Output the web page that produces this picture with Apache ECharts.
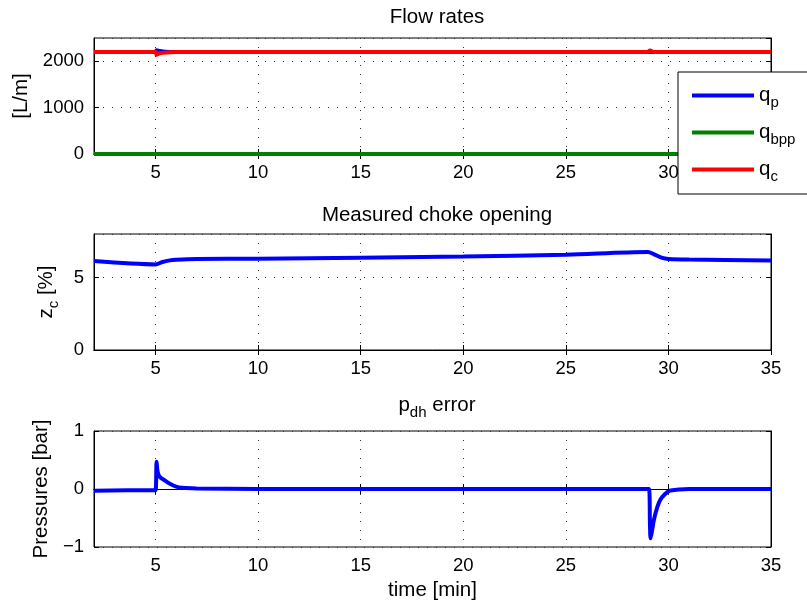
<!DOCTYPE html>
<html>
<head>
<meta charset="utf-8">
<script src="https://cdn.jsdelivr.net/npm/echarts@6/dist/echarts.min.js"></script>
<style>
  html, body { margin: 0; padding: 0; background: #fff; }
  #chart { width: 807px; height: 606px; }
</style>
</head>
<body>
<div id="chart"></div>
<script>
// flow rates [L/m]
const tFlow = [2, 5, 5.05, 5.2, 5.5, 6, 7, 29, 29.1, 29.3, 30, 35]
const qp    = [2200, 2200, 2235, 2220, 2205, 2200, 2200, 2200, 2200, 2200, 2200, 2200]
const qc    = [2200, 2200, 2140, 2170, 2190, 2200, 2200, 2200, 2230, 2200, 2200, 2200]
const qbpp  = [0, 0, 0, 0, 0, 0, 0, 0, 0, 0, 0, 0]

// measured choke opening [%]
const tChoke = [2, 5, 5.3, 5.7, 6, 7, 10, 20, 25, 29, 29.3, 29.7, 30, 31, 35]
const zc     = [6.13, 5.9, 6.05, 6.18, 6.22, 6.27, 6.3, 6.44, 6.57, 6.76, 6.6, 6.35, 6.28, 6.24, 6.18]

// p_dh error [bar]
const tErr = [2, 4.9, 5.0, 5.05, 5.1, 5.2, 5.4, 5.7, 6.0, 6.3, 7, 10, 20, 29.05, 29.1, 29.13, 29.2, 29.3, 29.45, 29.6, 29.8, 30.07, 30.5, 31, 35]
const pErr = [-0.03, -0.02, -0.02, 0.47, 0.3, 0.21, 0.16, 0.09, 0.04, 0.02, 0.01, 0, 0, 0, -0.6, -0.85, -0.72, -0.52, -0.32, -0.19, -0.1, -0.03, -0.01, 0, 0]

const xTicks = [5, 10, 15, 20, 25, 30, 35]

const pair = (t, v) => t.map((x, i) => [x, v[i]])
const FONT = 'Liberation Sans'
const sub = { fontSize: 15, fontFamily: FONT, color: '#000', padding: [14, 0, 0, 0] }

const grids = [
  { left: 94, right: 36, top: 38, height: 116 },
  { left: 94, right: 36, top: 234, height: 116 },
  { left: 94, right: 36, top: 431, height: 116 }
]
const yRanges = [[0, 2500, 1000], [0, 8, 5], [-1, 1, 1]]
const yNames = ['[L/m]', 'z{sub|c} [%]', 'Pressures [bar]']
const yGaps = [58, 33, 37]

const grid = grids.map(g => ({ ...g, show: true, borderColor: '#000', borderWidth: 1, backgroundColor: '#fff' }))

const gridLine = { show: true, lineStyle: { color: '#333', type: [1, 8], width: 1 } }
const tick = { show: true, inside: true, length: 5, lineStyle: { color: '#000' } }

const xAxis = []
const yAxis = []
grids.forEach((g, i) => {
  xAxis.push({
    type: 'value', gridIndex: i, min: 2, max: 35, position: 'bottom',
    name: i === 2 ? 'time [min]' : '', nameLocation: 'middle', nameGap: 33,
    nameTextStyle: { fontSize: 20.5, fontFamily: FONT, color: '#000' },
    axisLine: { show: true, lineStyle: { color: '#000' } },
    axisTick: { ...tick, customValues: xTicks },
    axisLabel: { color: '#000', fontSize: 18.5, fontFamily: FONT, margin: 9, customValues: xTicks },
    splitLine: gridLine
  })
  xAxis.push({
    type: 'value', gridIndex: i, min: 2, max: 35, position: 'top',
    axisLine: { show: true, lineStyle: { color: '#000' } },
    axisTick: { ...tick, customValues: xTicks },
    axisLabel: { show: false, customValues: xTicks }, splitLine: { show: false }
  })
  const [mn, mx, iv] = yRanges[i]
  yAxis.push({
    type: 'value', gridIndex: i, min: mn, max: mx, interval: iv, position: 'left',
    name: yNames[i], nameLocation: 'middle', nameGap: yGaps[i], nameRotate: 90,
    nameTextStyle: { fontSize: 20.5, fontFamily: FONT, color: '#000', rich: { sub: sub } },
    axisLine: { show: true, lineStyle: { color: '#000' } },
    axisTick: tick,
    axisLabel: { color: '#000', fontSize: 18.5, fontFamily: FONT, margin: 10,
      showMaxLabel: i === 2,
      formatter: v => (v < 0 ? '\u2212' + Math.abs(v) : String(v)) },
    splitLine: gridLine
  })
  yAxis.push({
    type: 'value', gridIndex: i, min: mn, max: mx, interval: iv, position: 'right',
    axisLine: { show: true, lineStyle: { color: '#000' } },
    axisTick: tick,
    axisLabel: { show: false }, splitLine: { show: false }
  })
})

const lineSeries = (name, data, color, gi) => ({
  name, type: 'line', data, xAxisIndex: gi * 2, yAxisIndex: gi * 2,
  showSymbol: false, symbol: 'none', smooth: 0.3, animation: false,
  lineStyle: { color, width: 4 }, itemStyle: { color }
})

const legendNames = { qp: 'q{sub|p}', qbpp: 'q{sub|bpp}', qc: 'q{sub|c}' }
const titleStyle = { fontSize: 20.5, fontWeight: 'normal', fontFamily: FONT, color: '#000' }

const option = {
  backgroundColor: '#fff',
  animation: false,
  title: [
    { text: 'Flow rates', left: 432, top: 2, textAlign: 'center', textStyle: titleStyle },
    { text: 'Measured choke opening', left: 432, top: 200, textAlign: 'center', textStyle: titleStyle },
    { text: 'p{sub|dh} error', left: 432, top: 386, textAlign: 'center',
      textStyle: { ...titleStyle, rich: { sub: sub } } }
  ],
  grid, xAxis, yAxis,
  legend: {
    orient: 'vertical', left: 678, top: 72,
    data: ['qp', 'qbpp', 'qc'],
    icon: 'rect', itemWidth: 62, itemHeight: 4, itemGap: 12,
    padding: [13, 40, 10, 14],
    backgroundColor: '#fff', borderColor: '#000', borderWidth: 1, borderRadius: 0,
    formatter: n => legendNames[n],
    textStyle: { fontSize: 20.5, fontFamily: FONT, color: '#000', rich: { sub: sub } }
  },
  series: [
    lineSeries('qp', pair(tFlow, qp), '#0000ff', 0),
    lineSeries('qbpp', pair(tFlow, qbpp), '#008000', 0),
    lineSeries('qc', pair(tFlow, qc), '#ff0000', 0),
    lineSeries('zc', pair(tChoke, zc), '#0000ff', 1),
    lineSeries('perr', pair(tErr, pErr), '#0000ff', 2)
  ]
}

const chart = echarts.init(document.getElementById('chart'))
chart.setOption(option)
</script>
</body>
</html>
